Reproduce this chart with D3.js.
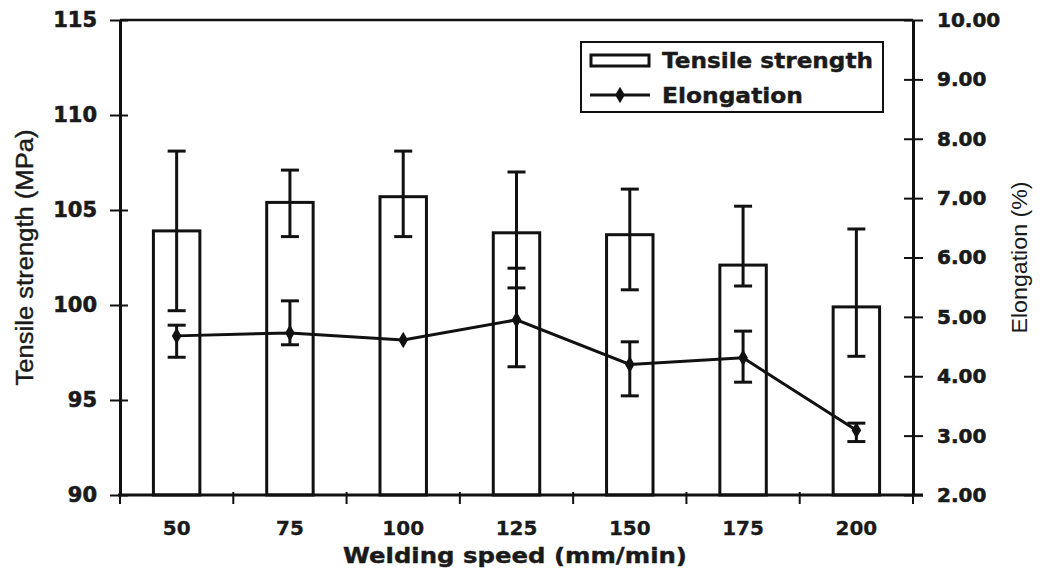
<!DOCTYPE html>
<html>
<head>
<meta charset="utf-8">
<script src="https://cdn.jsdelivr.net/npm/d3@7"></script>
<style>
  html, body { margin: 0; padding: 0; background: #ffffff; }
  svg { display: block; }
</style>
</head>
<body>
<svg id="chart" width="1042" height="572"></svg>
<script>
// ---- data ----
const speeds = ["50", "75", "100", "125", "150", "175", "200"];
const tensile = [103.9, 105.4, 105.7, 103.8, 103.7, 102.1, 99.9];
const tensileLow = [99.7, 103.6, 103.6, 100.9, 100.8, 101.0, 97.3];
const tensileHigh = [108.1, 107.1, 108.1, 107.0, 106.1, 105.2, 104.0];
const elongation = [4.68, 4.73, 4.61, 4.95, 4.20, 4.31, 3.09];
const elongLow = [4.32, 4.53, 4.61, 4.16, 3.67, 3.90, 2.90];
const elongHigh = [4.86, 5.27, 4.61, 5.82, 4.58, 4.76, 3.21];
const leftTicks = [90, 95, 100, 105, 110, 115];
const rightTicks = [2, 3, 4, 5, 6, 7, 8, 9, 10];
const legendLabels = ["Tensile strength", "Elongation"];
const xTitle = "Welding speed (mm/min)";
const yLeftTitle = "Tensile strength (MPa)";
const yRightTitle = "Elongation (%)";

// ---- layout ----
const L = 120, R = 913, T = 20, B = 495;
const svg = d3.select("#chart");
const tickFont = "'DejaVu Sans', sans-serif";
const ink = "#1a1a1a";

const x = d3.scaleBand().domain(speeds).range([L, R]).paddingInner(0.59).paddingOuter(0.295);
const yL = d3.scaleLinear().domain([90, 115]).range([B, T]);
const yR = d3.scaleLinear().domain([2, 10]).range([B, T]);
const cx = d => x(d) + x.bandwidth() / 2;

// top border
svg.append("line").attr("x1", L).attr("x2", R).attr("y1", T).attr("y2", T)
  .attr("stroke", "#111").attr("stroke-width", 2.5);

const rows = speeds.map((s, i) => ({ s, t: tensile[i], tl: tensileLow[i], th: tensileHigh[i],
  e: elongation[i], el: elongLow[i], eh: elongHigh[i] }));

// bars
svg.append("g").selectAll("rect").data(rows).join("rect")
  .attr("x", d => x(d.s)).attr("width", x.bandwidth())
  .attr("y", d => yL(d.t)).attr("height", d => B - yL(d.t))
  .attr("fill", "#ffffff").attr("stroke", "#111").attr("stroke-width", 3);

// error bars helper
function errorBars(g, data, scale, lo, hi) {
  const cap = 9;
  const eg = g.append("g").attr("stroke", "#111").attr("stroke-width", 3);
  data.filter(d => hi(d) > lo(d)).forEach(d => {
    const xc = cx(d.s);
    eg.append("line").attr("x1", xc).attr("x2", xc).attr("y1", scale(hi(d))).attr("y2", scale(lo(d)));
    eg.append("line").attr("x1", xc - cap).attr("x2", xc + cap).attr("y1", scale(hi(d))).attr("y2", scale(hi(d)));
    eg.append("line").attr("x1", xc - cap).attr("x2", xc + cap).attr("y1", scale(lo(d))).attr("y2", scale(lo(d)));
  });
}
errorBars(svg, rows, yL, d => d.tl, d => d.th);

// elongation line
svg.append("path").datum(rows)
  .attr("fill", "none").attr("stroke", "#111").attr("stroke-width", 3)
  .attr("d", d3.line().x(d => cx(d.s)).y(d => yR(d.e)));
errorBars(svg, rows, yR, d => d.el, d => d.eh);
const diamond = d3.symbol().type(d3.symbolDiamond).size(80);
svg.append("g").selectAll("path").data(rows).join("path")
  .attr("transform", d => `translate(${cx(d.s)},${yR(d.e)})`)
  .attr("d", diamond).attr("fill", "#111");

// axes
function styleAxis(g, size) {
  g.select(".domain").attr("stroke", "#111").attr("stroke-width", 3);
  g.selectAll(".tick line").attr("stroke", "#111").attr("stroke-width", 2);
  g.selectAll(".tick text").attr("font-family", tickFont).attr("font-weight", "bold")
    .attr("font-size", size).attr("fill", ink).attr("stroke", ink).attr("stroke-width", 0.6);
}
const gL = svg.append("g").attr("transform", `translate(${L},0)`)
  .call(d3.axisLeft(yL).tickValues(leftTicks).tickFormat(d3.format("d")).tickSize(10).tickSizeOuter(0).tickPadding(13));
styleAxis(gL, 21);
gL.selectAll(".tick line").attr("x2", -10).attr("x1", 8);

const gR = svg.append("g").attr("transform", `translate(${R},0)`)
  .call(d3.axisRight(yR).tickValues(rightTicks).tickFormat(d3.format(".2f")).tickSize(10).tickSizeOuter(0).tickPadding(14));
styleAxis(gR, 20);
gR.selectAll(".tick line").attr("x2", 10).attr("x1", -9);

// x axis: ticks at band boundaries
const gX = svg.append("g").attr("transform", `translate(0,${B})`);
gX.call(d3.axisBottom(x).tickSize(0).tickSizeOuter(0).tickPadding(0));
styleAxis(gX, 20);
gX.selectAll(".tick text").attr("stroke-width", 0.3);
gX.select(".domain").attr("d", `M${L - 2},0H${R + 10}`);
gX.selectAll(".tick text").attr("y", 40).attr("dy", 0);
const bounds = speeds.map(s => x(s) - (x.step() - x.bandwidth()) / 2).concat([R]);
gX.selectAll("line.bound").data(bounds).join("line").attr("class", "bound")
  .attr("x1", d => d).attr("x2", d => d).attr("y1", -3).attr("y2", 9)
  .attr("stroke", "#111").attr("stroke-width", 2);

// titles
svg.append("text").attr("x", (343 + 687) / 2).attr("y", 563).attr("text-anchor", "middle")
  .attr("font-family", tickFont).attr("font-weight", "bold").attr("font-size", 21)
  .attr("fill", ink).attr("stroke", ink).attr("stroke-width", 0.4)
  .attr("textLength", 344).attr("lengthAdjust", "spacingAndGlyphs").text(xTitle);

svg.append("text").attr("transform", `translate(33,${(T + B) / 2}) rotate(-90)`).attr("text-anchor", "middle")
  .attr("font-family", "'Liberation Sans', Arial, sans-serif").attr("font-size", 23)
  .attr("fill", ink).attr("stroke", ink).attr("stroke-width", 0.4)
  .attr("textLength", 256).attr("lengthAdjust", "spacingAndGlyphs").text(yLeftTitle);

svg.append("text").attr("transform", `translate(1027,${(T + B) / 2}) rotate(-90)`).attr("text-anchor", "middle")
  .attr("font-family", "'Liberation Sans', Arial, sans-serif").attr("font-size", 22)
  .attr("fill", ink).attr("textLength", 152).attr("lengthAdjust", "spacingAndGlyphs").text(yRightTitle);

// legend
const lg = svg.append("g");
lg.append("rect").attr("x", 581).attr("y", 42).attr("width", 302).attr("height", 70)
  .attr("fill", "#fff").attr("stroke", "#111").attr("stroke-width", 2);
lg.append("rect").attr("x", 591).attr("y", 55).attr("width", 58).attr("height", 11)
  .attr("fill", "#fff").attr("stroke", "#111").attr("stroke-width", 3);
lg.append("line").attr("x1", 590).attr("x2", 650).attr("y1", 95).attr("y2", 95)
  .attr("stroke", "#111").attr("stroke-width", 3);
lg.append("path").attr("transform", "translate(620,95)").attr("d", diamond).attr("fill", "#111");
lg.append("text").attr("x", 662).attr("y", 68).attr("font-family", tickFont).attr("font-weight", "bold")
  .attr("font-size", 21).attr("fill", ink).attr("stroke", ink).attr("stroke-width", 0.4)
  .attr("textLength", 211).attr("lengthAdjust", "spacingAndGlyphs").text(legendLabels[0]);
lg.append("text").attr("x", 662).attr("y", 103).attr("font-family", tickFont).attr("font-weight", "bold")
  .attr("font-size", 21).attr("fill", ink).attr("stroke", ink).attr("stroke-width", 0.4)
  .attr("textLength", 141).attr("lengthAdjust", "spacingAndGlyphs").text(legendLabels[1]);
</script>
</body>
</html>
